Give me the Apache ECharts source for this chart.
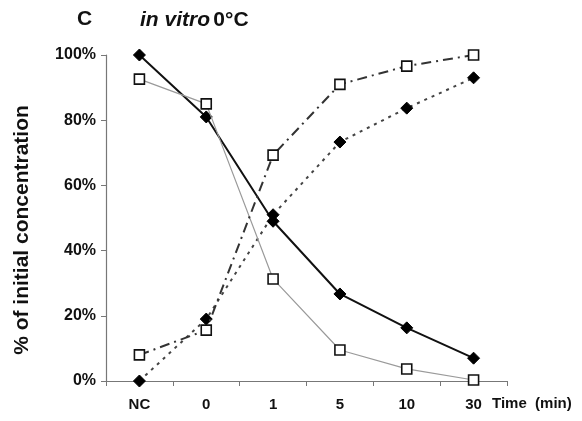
<!DOCTYPE html>
<html><head><meta charset="utf-8">
<script src="https://cdn.jsdelivr.net/npm/echarts@6/dist/echarts.min.js"></script>
<style>html,body{margin:0;padding:0;background:#fff}#c{width:582px;height:421px}</style>
</head><body><div id="c"></div>
<script>
var categories = ['NC', '0', '1', '5', '10', '30'];
var solidDiamond = [100, 81, 49, 26.7, 16.3, 7];
var thinSquare = [92.6, 85, 31.3, 9.5, 3.7, 0.3];
var dashDotSquare = [8, 15.6, 69.3, 91, 96.6, 100];
var dottedDiamond = [0, 19, 51, 73.3, 83.7, 93];
var yTicks = [0, 20, 40, 60, 80, 100];

var chart = echarts.init(document.getElementById('c'));
var F = 'Liberation Sans, Arial, sans-serif';
function diamondSeries(data, lineStyle) {
  return {type: 'line', data: data, symbol: 'diamond', symbolSize: 12,
    itemStyle: {color: '#000', borderColor: '#000'}, lineStyle: lineStyle, z: 3};
}
function squareSeries(data, lineStyle) {
  return {type: 'line', data: data, symbol: 'rect', symbolSize: 10,
    itemStyle: {color: '#fff', borderColor: '#111', borderWidth: 1.6}, lineStyle: lineStyle, z: 4};
}
chart.setOption({
  animation: false,
  backgroundColor: '#fff',
  grid: {left: 106, right: 75, top: 55, bottom: 40},
  graphic: [
    {type: 'text', x: 77, y: 19, style: {text: 'C', font: 'bold 21px ' + F, fill: '#111', verticalAlign: 'middle'}},
    {type: 'text', x: 140, y: 20, style: {rich: {i: {font: 'italic bold 21px ' + F, fill: '#111'}, n: {font: 'bold 21px ' + F, fill: '#111'}}, text: '{i|in vitro} {n|0°C}', verticalAlign: 'middle'}},
    {type: 'text', x: 492, y: 404, style: {text: 'Time  (min)', font: 'bold 15px ' + F, fill: '#111', verticalAlign: 'middle'}},
    {type: 'text', x: 22, y: 230, rotation: Math.PI / 2, style: {text: '% of initial concentration', font: 'bold 21px ' + F, fill: '#111', align: 'center', verticalAlign: 'middle'}}
  ],
  xAxis: {
    type: 'category', data: categories, boundaryGap: true,
    axisLine: {lineStyle: {color: '#777', width: 1.2}},
    axisTick: {show: true, length: 5, lineStyle: {color: '#777'}},
    axisLabel: {color: '#111', fontFamily: F, fontWeight: 'bold', fontSize: 15, margin: 16}
  },
  yAxis: {
    type: 'value', min: 0, max: 100, interval: 20,
    axisLine: {show: true, lineStyle: {color: '#777', width: 1.2}},
    axisTick: {show: true, length: 5, lineStyle: {color: '#777'}},
    splitLine: {show: false},
    axisLabel: {color: '#111', fontFamily: F, fontWeight: 'bold', fontSize: 16, margin: 10,
      formatter: function (v) { return yTicks.indexOf(v) >= 0 ? v + '%' : ''; }}
  },
  series: [
    squareSeries(thinSquare, {color: '#9a9a9a', width: 1.2, type: 'solid'}),
    squareSeries(dashDotSquare, {color: '#333', width: 2, type: [10, 5, 2, 5]}),
    diamondSeries(dottedDiamond, {color: '#444', width: 2, type: [3, 5]}),
    diamondSeries(solidDiamond, {color: '#111', width: 2, type: 'solid'})
  ]
});
</script></body></html>
